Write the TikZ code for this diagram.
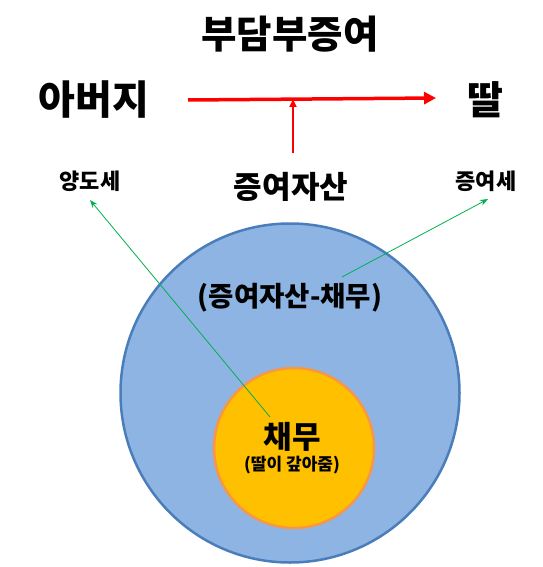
\documentclass[tikz,border=0pt]{standalone}
\usepackage{fontspec}
\setmainfont{Noto Sans CJK KR}
\usetikzlibrary{arrows.meta}
\definecolor{outerfill}{HTML}{8EB4E3}
\definecolor{outerline}{HTML}{4A7EBB}
\definecolor{innerfill}{HTML}{FFC000}
\definecolor{innerline}{HTML}{F79646}
\definecolor{grn}{HTML}{00B050}
\definecolor{rd}{HTML}{FF0000}
\tikzset{
  txt/.style={inner sep=0pt, font=\bfseries},
  redarrow/.style={draw=rd, line width=3.5pt, -{Triangle[length=12pt,width=12pt]}},
  redup/.style={draw=rd, line width=2pt, -{Triangle[length=8pt,width=7pt]}},
  greenarrow/.style={draw=grn, line width=0.8pt, -{Stealth[length=8pt,width=6pt]}},
}
\begin{document}
\begin{tikzpicture}[x=1pt,y=-1pt]
\useasboundingbox (0,0) rectangle (542,567);
% circles
\node[circle, draw=outerline, line width=2.5pt, fill=outerfill, minimum size=339pt, inner sep=0pt] (outer) at (290,393) {};
\node[circle, draw=innerline, line width=2.5pt, fill=innerfill, minimum size=160pt, inner sep=0pt] (inner) at (294,448) {};
% texts
\node[txt, font=\bfseries\fontsize{38.5}{40}\selectfont] (title) at (290,34) {부담부증여};
\node[txt, font=\bfseries\fontsize{40}{42}\selectfont] (father) at (94,100) {아버지};
\node[txt, font=\bfseries\fontsize{39}{41}\selectfont] (daughter) at (485,100) {딸};
\node[txt, font=\bfseries\fontsize{31}{33}\selectfont] (asset) at (291,187) {증여자산};
\node[txt, font=\bfseries\fontsize{22}{24}\selectfont] (ytax) at (90,181) {양도세};
\node[txt, font=\bfseries\fontsize{22}{24}\selectfont] (gtax) at (486,181) {증여세};
\node[txt, font=\bfseries\fontsize{27.5}{29}\selectfont] (net) at (290,298) {(증여자산-채무)};
\node[txt, font=\bfseries\fontsize{31}{33}\selectfont] (debt) at (292,437) {채무};
\node[txt, font=\bfseries\fontsize{17}{19}\selectfont] (pays) at (292,465) {(딸이 갚아줌)};
% arrows
\coordinate (ra) at (188,100);
\coordinate (rb) at (436,98);
\coordinate (mid) at (293,99);
\coordinate (vs) at (293,153);
\draw[redarrow] (ra) -- (rb);
\draw[redup] (vs) -- (mid);
\coordinate (g1s) at (270,417);
\coordinate (g1e) at (90,200);
\coordinate (g2s) at (342,277);
\coordinate (g2e) at (488,199);
\draw[greenarrow] (g1s) -- (g1e);
\draw[greenarrow] (g2s) -- (g2e);
\end{tikzpicture}
\end{document}
